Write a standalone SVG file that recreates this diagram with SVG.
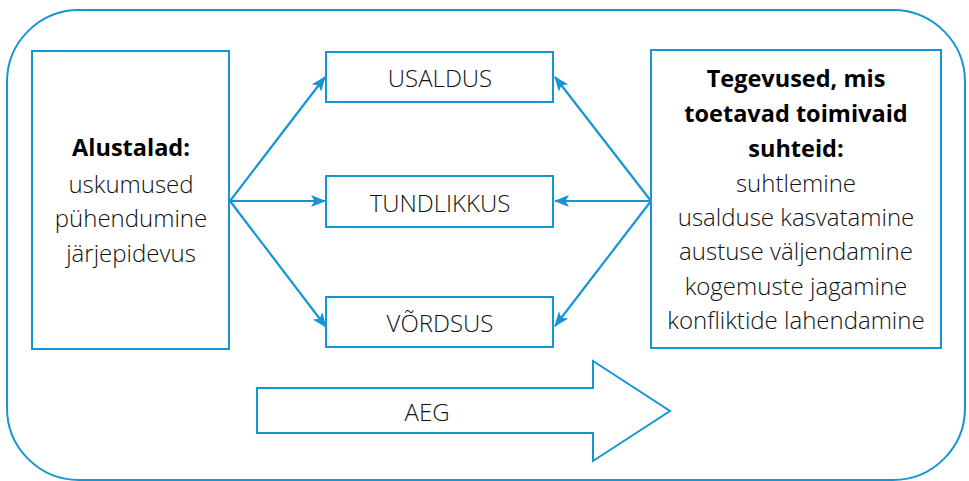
<svg xmlns="http://www.w3.org/2000/svg" width="969" height="481" viewBox="0 0 969 481">
<style>
.box{fill:#fff;stroke:#1496d4;stroke-width:2}
.con{stroke:#1496d4;stroke-width:2.2;fill:none}
text{font-family:"Open Sans","Noto Sans","Liberation Sans",sans-serif;font-size:24px;font-weight:300;fill:#111;text-anchor:middle}
.b{font-weight:700;fill:#000;font-size:23.5px}
</style>
<defs>
<marker id="ah" viewBox="0 0 15 12" refX="14" refY="6" markerWidth="15" markerHeight="12" markerUnits="userSpaceOnUse" orient="auto">
<path d="M0,0 L15,6 L0,12 L3.5,6 Z" fill="#1496d4"/>
</marker>
</defs>
<rect x="7" y="10" width="958" height="470" rx="72" ry="72" fill="#fff" stroke="#1496d4" stroke-width="2"/>
<g id="connectors">
<line class="con" x1="230" y1="201" x2="325" y2="77" marker-end="url(#ah)"/>
<line class="con" x1="230" y1="201" x2="325" y2="201" marker-end="url(#ah)"/>
<line class="con" x1="230" y1="201" x2="326" y2="327" marker-end="url(#ah)"/>
<line class="con" x1="651" y1="201" x2="555" y2="77" marker-end="url(#ah)"/>
<line class="con" x1="651" y1="201" x2="555" y2="201" marker-end="url(#ah)"/>
<line class="con" x1="651" y1="201" x2="555" y2="326" marker-end="url(#ah)"/>
</g>
<g id="alustalad">
<rect class="box" x="32" y="51" width="197" height="298"/>
<text x="131" y="156" class="b">Alustalad:</text>
<text x="131" y="193">uskumused</text>
<text x="131" y="227">pühendumine</text>
<text x="131" y="262">järjepidevus</text>
</g>
<g id="usaldus">
<rect class="box" x="326" y="52" width="227" height="50"/>
<text x="440" y="87">USALDUS</text>
</g>
<g id="tundlikkus">
<rect class="box" x="326" y="176" width="227" height="51"/>
<text x="440" y="212">TUNDLIKKUS</text>
</g>
<g id="vordsus">
<rect class="box" x="326" y="297" width="227" height="50"/>
<text x="440" y="332">VÕRDSUS</text>
</g>
<g id="tegevused">
<rect class="box" x="651" y="50" width="290" height="298"/>
<text x="796" y="87" class="b">Tegevused, mis</text>
<text x="796" y="122" class="b">toetavad toimivaid</text>
<text x="796" y="157" class="b">suhteid:</text>
<text x="796" y="192">suhtlemine</text>
<text x="796" y="226">usalduse kasvatamine</text>
<text x="796" y="260">austuse väljendamine</text>
<text x="796" y="295">kogemuste jagamine</text>
<text x="796" y="329">konfliktide lahendamine</text>
</g>
<g id="aeg">
<path class="box" d="M257,388 L593,388 L593,361 L670,411 L593,461 L593,433 L257,433 Z"/>
<text x="427" y="421">AEG</text>
</g>
</svg>
